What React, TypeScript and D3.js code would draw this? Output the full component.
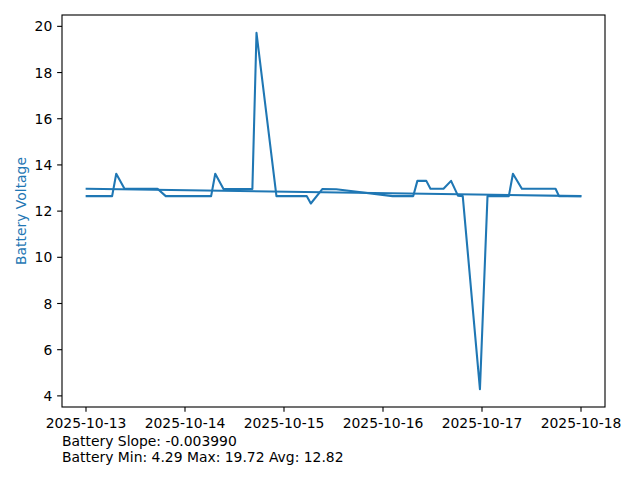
import React from "react";
import * as d3 from "d3";

const times: string[] = [
  "2025-10-13 00:10", "2025-10-13 06:20", "2025-10-13 07:20", "2025-10-13 09:20",
  "2025-10-13 17:20", "2025-10-13 19:20", "2025-10-14 06:20", "2025-10-14 07:20",
  "2025-10-14 09:20", "2025-10-14 16:20", "2025-10-14 17:20", "2025-10-14 22:10",
  "2025-10-15 05:30", "2025-10-15 06:30", "2025-10-15 09:20", "2025-10-15 12:40",
  "2025-10-16 02:20", "2025-10-16 07:20", "2025-10-16 08:20", "2025-10-16 10:30",
  "2025-10-16 11:30", "2025-10-16 14:40", "2025-10-16 16:30", "2025-10-16 18:10",
  "2025-10-16 19:20", "2025-10-16 23:30", "2025-10-17 01:20", "2025-10-17 06:30",
  "2025-10-17 07:30", "2025-10-17 09:40", "2025-10-17 17:50", "2025-10-17 18:40",
  "2025-10-17 23:50",
];
const voltages: number[] = [
  12.65, 12.65, 13.62, 12.97,
  12.97, 12.65, 12.65, 13.62,
  12.96, 12.96, 19.72, 12.65,
  12.65, 12.33, 12.96, 12.95,
  12.65, 12.65, 13.31, 13.31,
  12.97, 12.97, 13.31, 12.67,
  12.65, 4.29, 12.65, 12.65,
  13.62, 12.97, 12.97, 12.65,
  12.65,
];
const trendTimes: string[] = ["2025-10-13 00:10", "2025-10-17 23:50"];
const trendValues: number[] = [12.97, 12.65];
const xTickLabels: string[] = ["2025-10-13", "2025-10-14", "2025-10-15", "2025-10-16", "2025-10-17", "2025-10-18"];
const yTicks: number[] = [4, 6, 8, 10, 12, 14, 16, 18, 20];
const yLabel = "Battery Voltage";
const infoLines: string[] = ["Battery Slope: -0.003990", "Battery Min: 4.29 Max: 19.72 Avg: 12.82"];

const W = 640, H = 480;
const L = 62, R = 605, T = 15, B = 407;
const BLUE = "#1f77b4";
const FONT = "DejaVu Sans";
const FS = 13.9;

export default function App() {
  const parse = d3.timeParse("%Y-%m-%d %H:%M");
  const parseDay = d3.timeParse("%Y-%m-%d");
  const dates = times.map((t) => parse(t) as Date);
  const data = dates.map((d, i) => ({ d, v: voltages[i] }));
  const trend = trendTimes.map((t, i) => ({ d: parse(t) as Date, v: trendValues[i] }));

  const [x0, x1] = d3.extent(dates) as [Date, Date];
  const xpad = (x1.getTime() - x0.getTime()) * 0.05;
  const x = d3.scaleTime().domain([new Date(x0.getTime() - xpad), new Date(x1.getTime() + xpad)]).range([L, R]);
  const [vmin, vmax] = d3.extent(voltages) as [number, number];
  const ypad = (vmax - vmin) * 0.05;
  const y = d3.scaleLinear().domain([vmin - ypad, vmax + ypad]).range([B, T]);

  const line = d3.line<{ d: Date; v: number }>().x((p) => x(p.d)).y((p) => y(p.v));

  return (
    <svg width={W} height={H} style={{ position: "absolute", left: 0, top: 0, background: "#fff" }} fontFamily={FONT}>
      <rect x={0} y={0} width={W} height={H} fill="#fff" />
      <path d={line(data) || ""} fill="none" stroke={BLUE} strokeWidth={2.08} strokeLinejoin="round" strokeLinecap="square" />
      <path d={line(trend) || ""} fill="none" stroke={BLUE} strokeWidth={2.08} strokeLinecap="square" />
      <rect x={L} y={T} width={R - L} height={B - T} fill="none" stroke="#000" strokeWidth={1.11} />
      {yTicks.map((t) => (
        <g key={"y" + t}>
          <line x1={L - 4.86} x2={L} y1={y(t)} y2={y(t)} stroke="#000" strokeWidth={1.11} />
          <text x={L - 9.7} y={y(t)} dy="0.36em" textAnchor="end" fontSize={FS} fill="#000">{t}</text>
        </g>
      ))}
      {xTickLabels.map((lbl) => {
        const px = x(parseDay(lbl) as Date);
        return (
          <g key={lbl}>
            <line x1={px} x2={px} y1={B} y2={B + 4.86} stroke="#000" strokeWidth={1.11} />
            <text x={px} y={B + 9.7} dy="0.78em" textAnchor="middle" fontSize={FS} fill="#000">{lbl}</text>
          </g>
        );
      })}
      <text transform={`translate(26,${(T + B) / 2}) rotate(-90)`} textAnchor="middle" fontSize={FS} fill={BLUE}>{yLabel}</text>
      {infoLines.map((s, i) => (
        <text key={s} x={L} y={446 + i * 16} fontSize={FS} fill="#000">{s}</text>
      ))}
    </svg>
  );
}
